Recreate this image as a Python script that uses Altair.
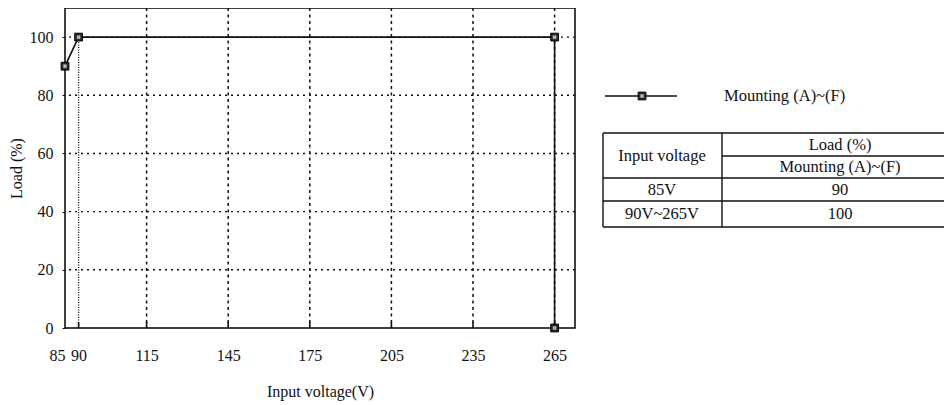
import altair as alt
import pandas as pd

# ---- data ----
volt = [85, 90, 265, 265]
load = [90, 100, 100, 0]
x_tick_values = [85, 90, 115, 145, 175, 205, 235, 265]
x_grid_values = [115, 145, 175, 205, 235, 265]
y_tick_values = [0, 20, 40, 60, 80, 100]
y_grid_values = [20, 40, 60, 80, 100]
series_name = "Mounting (A)~(F)"
table_col_head = "Input voltage"
table_group_head = "Load (%)"
table_sub_head = "Mounting (A)~(F)"
table_voltage = ["85V", "90V~265V"]
table_load = ["90", "100"]

W, H = 510, 320
FONT = "Liberation Serif, Times New Roman, DejaVu Serif, serif"
INK = "#111111"

xs = alt.Scale(domain=[85, 272.5], nice=False, zero=False)
ys = alt.Scale(domain=[0, 110], nice=False, zero=False)

data = pd.DataFrame({"v": volt, "l": load, "o": list(range(len(volt)))})

xgrid = alt.Chart(pd.DataFrame({"g": x_grid_values})).mark_rule(
    color=INK, strokeWidth=1.5, strokeDash=[3, 3.5]
).encode(x=alt.X("g:Q", scale=xs, axis=None))

grid90 = alt.Chart(pd.DataFrame({"g": [90], "a": [0], "b": [100]})).mark_rule(
    color=INK, strokeWidth=1.3, strokeDash=[1, 1.5]
).encode(
    x=alt.X("g:Q", scale=xs, axis=None),
    y=alt.Y("a:Q", scale=ys, axis=None),
    y2="b:Q",
)

ygrid = alt.Chart(pd.DataFrame({"g": y_grid_values})).mark_rule(
    color=INK, strokeWidth=1.4, strokeDash=[2, 4]
).encode(y=alt.Y("g:Q", scale=ys, axis=None))

inticks = alt.Chart(pd.DataFrame({"g": x_tick_values[1:]})).mark_rule(
    color=INK, strokeWidth=1.6
).encode(x=alt.X("g:Q", scale=xs, axis=None), y=alt.value(H), y2=alt.value(H - 6))

line = alt.Chart(data).mark_line(color=INK, strokeWidth=1.6).encode(
    x=alt.X(
        "v:Q",
        scale=xs,
        axis=alt.Axis(
            values=x_tick_values,
            title="Input voltage(V)",
            grid=False,
            ticks=False,
            domain=False,
            labelOverlap=False,
            labelAlign={"condition": {"test": "datum.value == 85", "value": "right"}, "value": "center"},
            labelPadding=19,
            titlePadding=20,
        ),
    ),
    y=alt.Y(
        "l:Q",
        scale=ys,
        axis=alt.Axis(
            values=y_tick_values,
            title="Load (%)",
            grid=False,
            domain=False,
            ticks=True,
            tickSize=3,
            tickColor=INK,
            labelPadding=9,
            titlePadding=5,
        ),
    ),
    order="o:Q",
)

pts = alt.Chart(data).mark_point(
    shape="square", filled=True, fill="#2b2b2b", stroke="#000000", strokeWidth=1, size=60, opacity=1
).encode(x=alt.X("v:Q", scale=xs, axis=None), y=alt.Y("l:Q", scale=ys, axis=None))

cross = alt.Chart(data).mark_point(
    shape="cross", angle=45, filled=True, fill="#bdbdbd", strokeWidth=0, size=18, opacity=1
).encode(x=alt.X("v:Q", scale=xs, axis=None), y=alt.Y("l:Q", scale=ys, axis=None))

# ---- legend ----
leg_df = pd.DataFrame({"name": [series_name]})
leg_line = alt.Chart(leg_df).mark_rule(color=INK, strokeWidth=1.3).encode(
    x=alt.value(540), x2=alt.value(612), y=alt.value(88)
)
leg_pt = alt.Chart(leg_df).mark_point(
    shape="square", filled=True, fill="#2b2b2b", stroke="#000000", strokeWidth=1, size=60, opacity=1
).encode(x=alt.value(577), y=alt.value(88))
leg_cross = alt.Chart(leg_df).mark_point(
    shape="cross", angle=45, filled=True, fill="#bdbdbd", strokeWidth=0, size=18, opacity=1
).encode(x=alt.value(577), y=alt.value(88))
leg_txt = alt.Chart(leg_df).mark_text(
    font=FONT, fontSize=16.5, color=INK, align="left", baseline="middle"
).encode(x=alt.value(659), y=alt.value(88), text="name:N")

# ---- table ----
cells = pd.DataFrame({
    "t": [table_col_head, table_group_head, table_sub_head] + table_voltage + table_load,
    "px": [597, 775, 775, 597, 597, 775, 775],
    "py": [148, 137, 159, 182, 206, 182, 206],
})
tab_txt = alt.Chart(cells).mark_text(
    font=FONT, fontSize=16.5, color=INK, align="center", baseline="middle"
).encode(
    x=alt.X("px:Q", scale=None, axis=None),
    y=alt.Y("py:Q", scale=None, axis=None),
    text="t:N",
)
frame = pd.DataFrame({
    "x1": [538, 657, 538, 538, 538, 538, 657],
    "x2": [900, 900, 900, 900, 900, 538, 657],
    "y1": [125, 148, 170, 193, 219, 125, 125],
    "y2": [125, 148, 170, 193, 219, 219, 219],
})
tab_lines = alt.Chart(frame).mark_rule(color=INK, strokeWidth=1.4).encode(
    x=alt.X("x1:Q", scale=None, axis=None),
    x2="x2:Q",
    y=alt.Y("y1:Q", scale=None, axis=None),
    y2="y2:Q",
)

chart = alt.layer(
    xgrid, grid90, ygrid, inticks, line, pts, cross,
    leg_line, leg_pt, leg_cross, leg_txt, tab_lines, tab_txt,
).resolve_scale(x="independent", y="independent").properties(
    width=W,
    height=H,
    autosize=alt.AutoSizeParams(type="none"),
    padding={"left": 57, "top": 0, "right": 369, "bottom": 74},
).configure_view(stroke="#000000", strokeWidth=1.5).configure_axis(
    labelFont=FONT, titleFont=FONT, labelFontSize=16, titleFontSize=16,
    labelColor=INK, titleColor=INK, titleFontWeight="normal",
)

chart.save("out.html", embed_options={"renderer": "svg", "actions": False})
